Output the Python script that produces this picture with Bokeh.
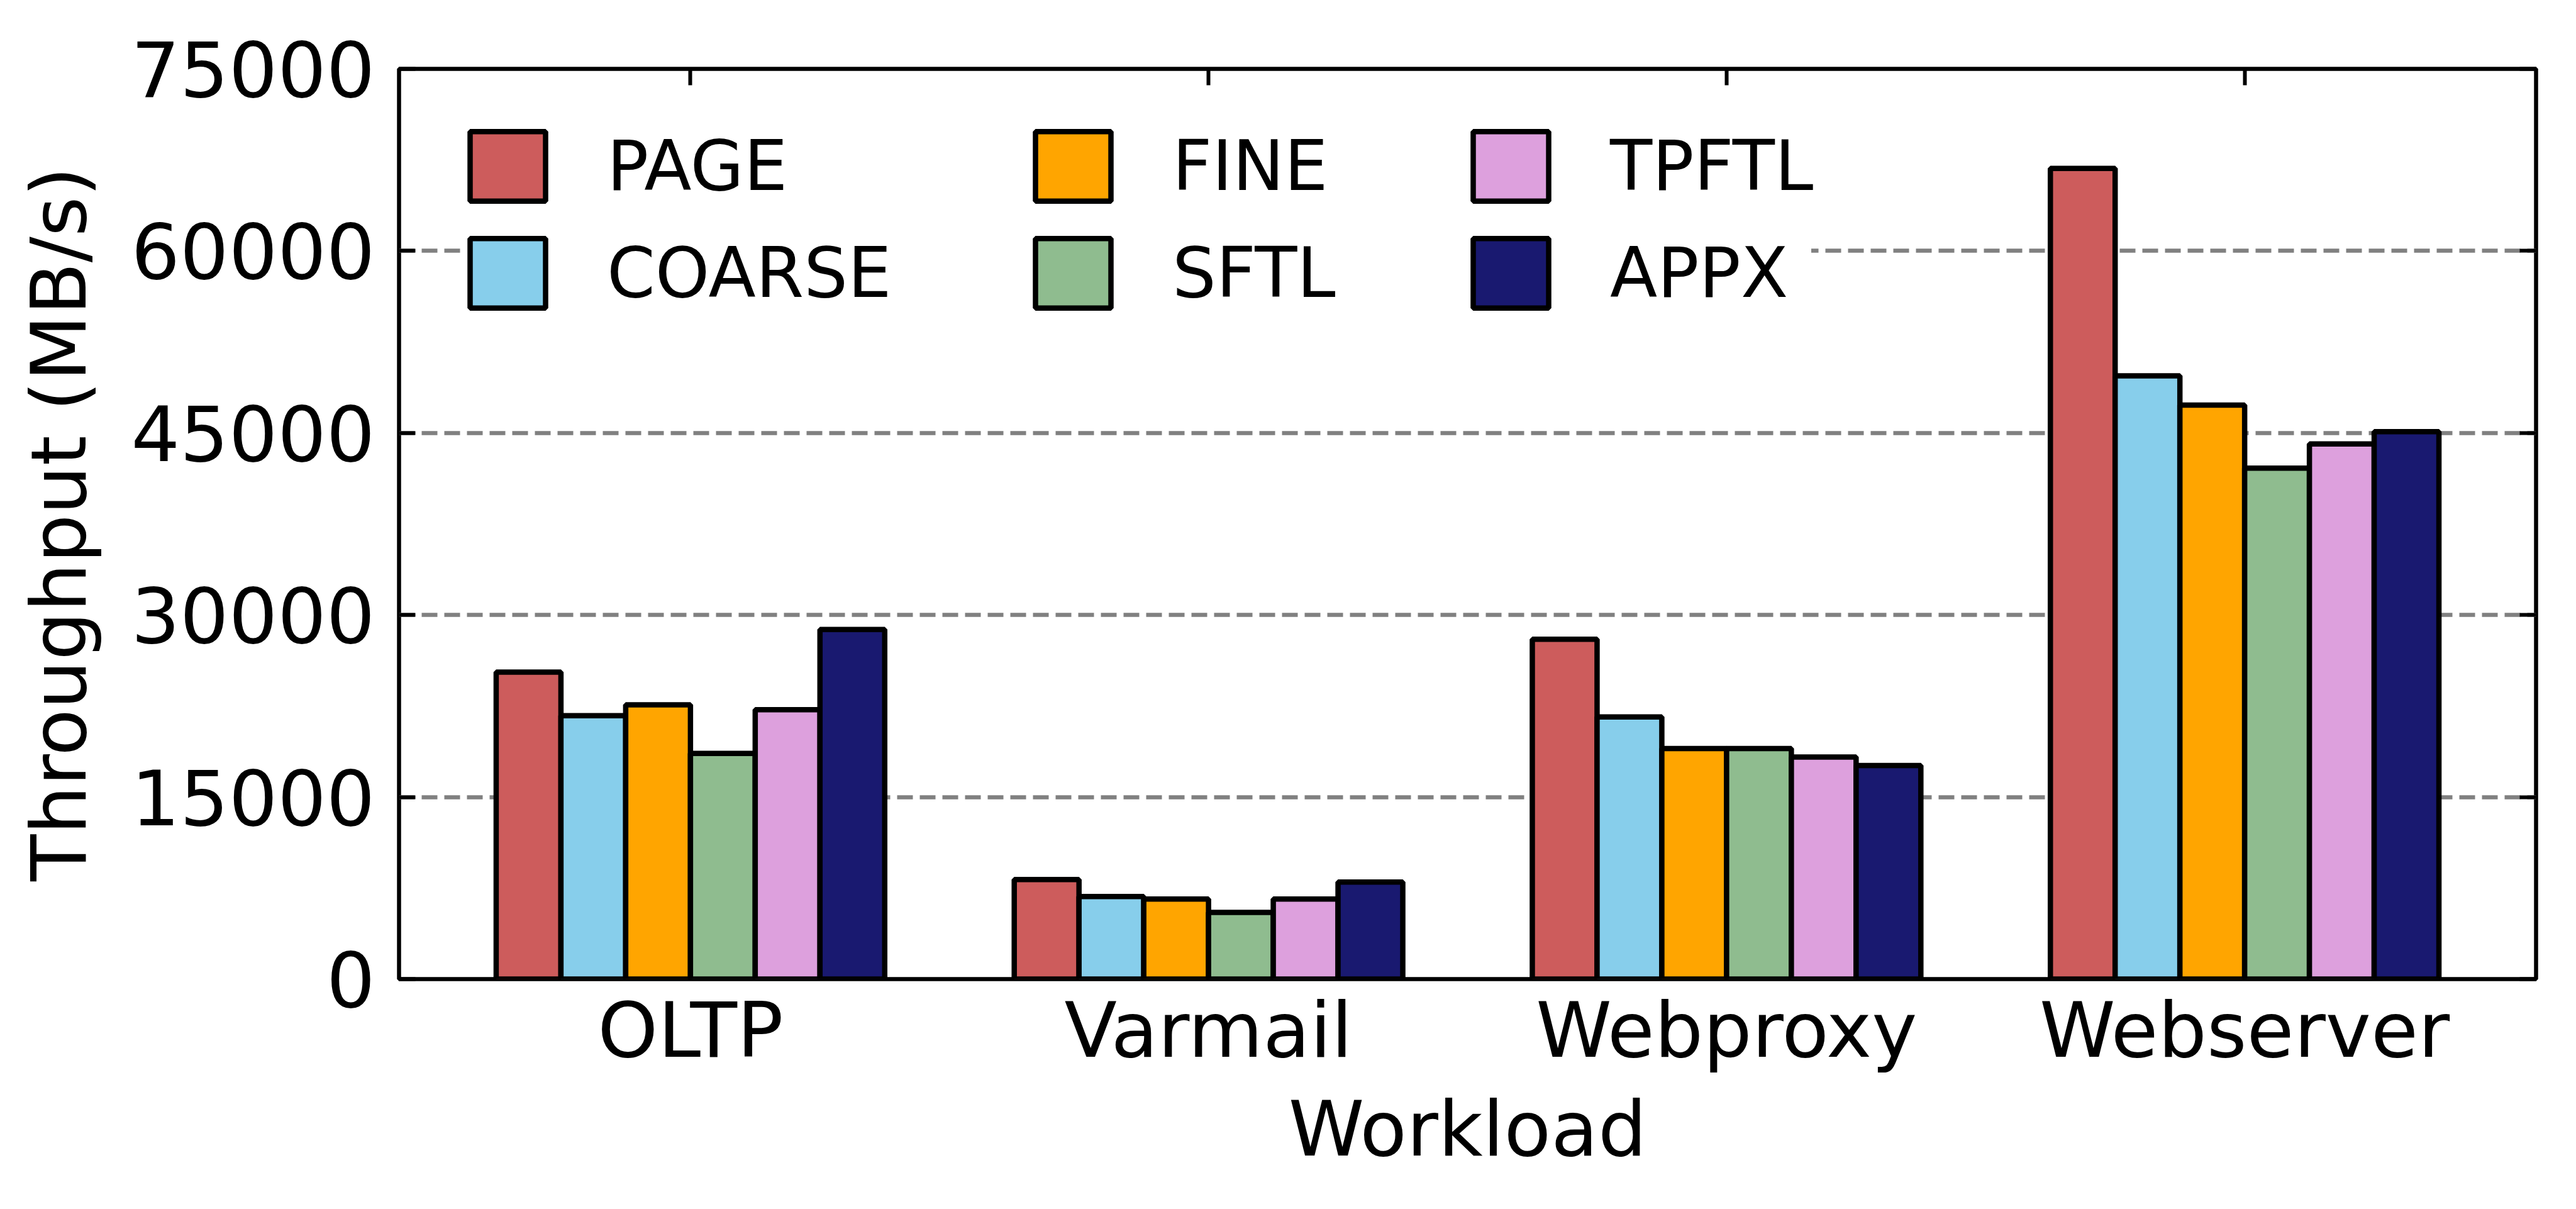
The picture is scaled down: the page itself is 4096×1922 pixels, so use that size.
from bokeh.plotting import figure
from bokeh.models import (ColumnDataSource, Range1d, FixedTicker, LinearAxis,
                          Legend, LegendItem, CustomJSTickFormatter)
from bokeh.transform import dodge
from bokeh.embed import file_html
from bokeh.resources import INLINE

# ---- data ----
workloads = ["OLTP", "Varmail", "Webproxy", "Webserver"]
workload_index = [0, 1, 2, 3]
schemes = ["PAGE", "COARSE", "FINE", "SFTL", "TPFTL", "APPX"]
page = [25300, 8200, 28000, 66800]
coarse = [21700, 6800, 21600, 49700]
fine = [22600, 6600, 19000, 47300]
sftl = [18600, 5500, 19000, 42100]
tpftl = [22200, 6600, 18300, 44100]
appx = [28800, 8000, 17600, 45100]
y_ticks = [0, 15000, 30000, 45000, 60000, 75000]
y_tick_labels = ["0", "15000", "30000", "45000", "60000", "75000"]
colors = ["#CD5C5C", "#87CEEB", "#FFA500", "#8FBC8F", "#DDA0DD", "#191970"]

series = [page, coarse, fine, sftl, tpftl, appx]
data = {"xi": workload_index}
for name, vals in zip(schemes, series):
    data[name] = vals
source = ColumnDataSource(data)

FONT = "DejaVu Sans"
FS = "122px"
LFS = "110px"
bar_w = 0.125

p = figure(width=4096, height=1922,
           x_range=Range1d(-0.5625, 3.5625), y_range=Range1d(0, 75000),
           output_backend="svg", toolbar_location=None,
           min_border_left=634, min_border_right=64,
           min_border_top=109, min_border_bottom=366)
p.background_fill_color = "white"
p.border_fill_color = "white"
p.outline_line_color = "black"
p.outline_line_width = 6.5

renderers = []
for i, (name, col) in enumerate(zip(schemes, colors)):
    r = p.vbar(x=dodge("xi", (i - 2.5) * bar_w), top=name, width=bar_w,
               source=source, fill_color=col, line_color="black",
               line_width=8.5)
    renderers.append(r)

# grid
p.xgrid.visible = False
p.ygrid.ticker = FixedTicker(ticks=y_ticks)
p.ygrid.grid_line_color = "#808080"
p.ygrid.grid_line_width = 6.5
p.ygrid.grid_line_dash = "25 11"

# axes
xa = p.xaxis[0]
xa.ticker = FixedTicker(ticks=workload_index)
xa.major_label_overrides = {i: w for i, w in zip(workload_index, workloads)}
xa.axis_label = "Workload"
ya = p.yaxis[0]
ya.ticker = FixedTicker(ticks=y_ticks)
ya.major_label_overrides = {t: l for t, l in zip(y_ticks, y_tick_labels)}
ya.axis_label = "Throughput (MB/s)"

for ax in (xa, ya):
    ax.axis_line_color = None
    ax.major_tick_in = 26
    ax.major_tick_out = 0
    ax.major_tick_line_width = 6
    ax.major_tick_line_color = "black"
    ax.minor_tick_line_color = None
    ax.major_label_text_font = FONT
    ax.major_label_text_font_size = FS
    ax.major_label_text_color = "black"
    ax.axis_label_text_font = FONT
    ax.axis_label_text_font_size = FS
    ax.axis_label_text_font_style = "normal"
    ax.axis_label_text_color = "black"

xa.major_label_standoff = 10
xa.axis_label_standoff = 12
ya.major_label_standoff = 38
ya.axis_label_standoff = 40

blank = CustomJSTickFormatter(code="return ''")
top_ax = LinearAxis(ticker=FixedTicker(ticks=workload_index), formatter=blank)
right_ax = LinearAxis(ticker=FixedTicker(ticks=y_ticks), formatter=blank)
for ax in (top_ax, right_ax):
    ax.axis_line_color = None
    ax.major_tick_in = 26
    ax.major_tick_out = 0
    ax.major_tick_line_width = 6
    ax.major_tick_line_color = "black"
    ax.minor_tick_line_color = None
    ax.major_label_text_font_size = "1px"
    ax.major_label_standoff = 0
p.add_layout(top_ax, "above")
p.add_layout(right_ax, "right")

# legends: three columns, two rows each; the first one carries the
# white background that spans the whole legend area
legend_x = [98, 997, 1693]
label_w = [1915, 397, 338]
for c in range(3):
    items = [LegendItem(label=schemes[2 * c + k], renderers=[renderers[2 * c + k]])
             for k in range(2)]
    lg = Legend(items=items, location=(legend_x[c], 1053),
                orientation="vertical",
                glyph_width=150, glyph_height=138, label_standoff=83,
                label_width=label_w[c], spacing=32, padding=33, margin=0,
                label_text_font=FONT, label_text_font_size=LFS,
                label_text_color="black",
                background_fill_color="white",
                background_fill_alpha=1.0 if c == 0 else 0.0,
                border_line_color=None)
    p.add_layout(lg, "center")

open("out.html", "w").write(file_html(p, INLINE))
